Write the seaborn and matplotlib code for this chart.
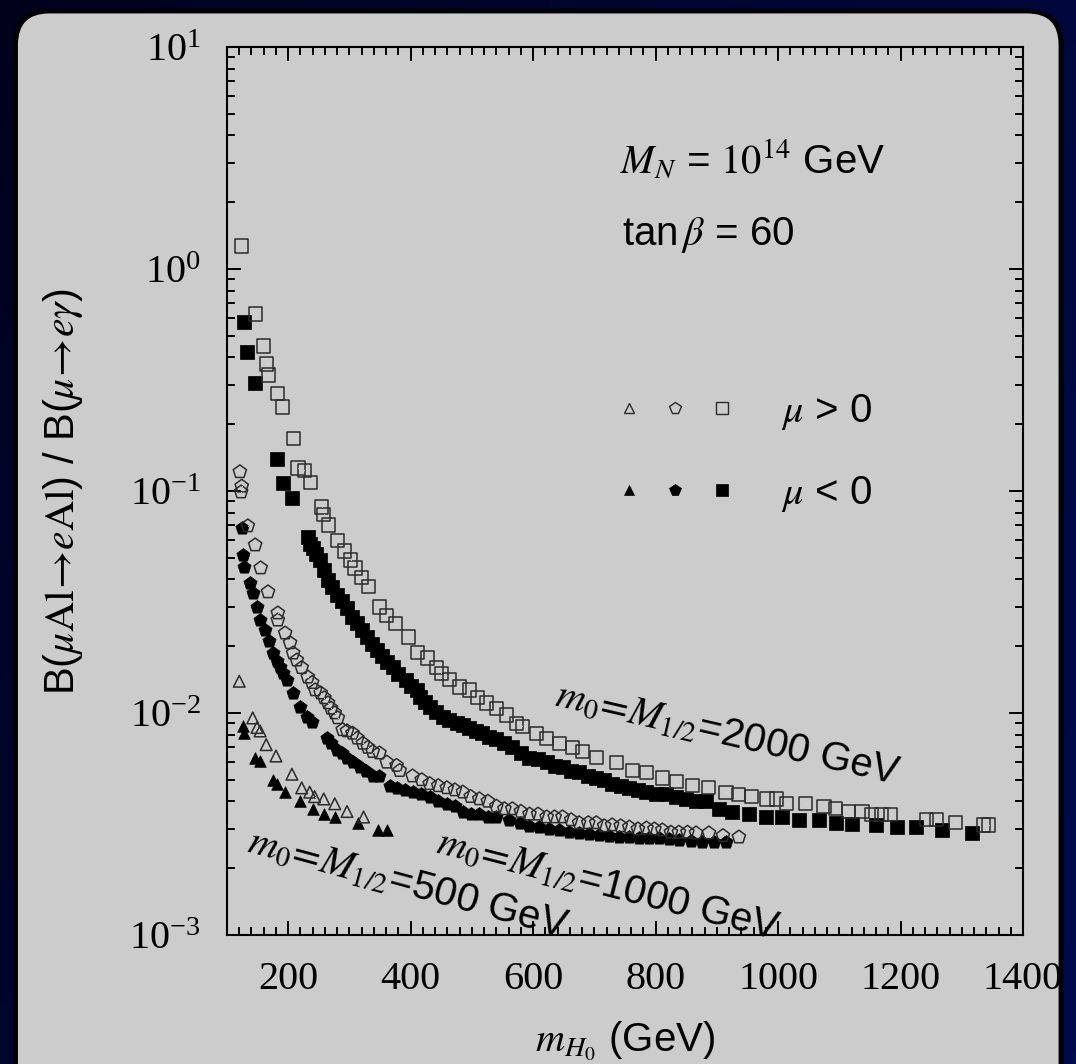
import numpy as np
import seaborn as sns
import matplotlib.pyplot as plt
from matplotlib.colors import LinearSegmentedColormap
from matplotlib.patches import FancyBboxPatch
from matplotlib.lines import Line2D
from matplotlib.legend_handler import HandlerTuple
from matplotlib.ticker import MultipleLocator

# --- data (m_H0 in GeV, ratio B(mu Al -> e Al)/B(mu -> e gamma)) ---
# m0 = M1/2 = 2000 GeV, mu > 0 (open squares)
sq_pos_x = [124, 147, 159, 165, 168, 182, 190, 208, 216, 226, 237, 255, 258, 266, 281,
            292, 302, 309, 320, 331, 349, 361, 375, 397, 411, 428, 442, 450, 463, 480,
            496, 509, 524, 540, 556, 573, 582, 605, 622, 643, 664, 680, 703, 736, 762,
            785, 811, 834, 860, 887, 915, 936, 957, 982, 997, 1014, 1045, 1075, 1094, 1115,
            1137, 1153, 1169, 1184, 1243, 1259, 1290, 1336, 1344]
sq_pos_y = [1.27, 0.627, 0.450, 0.373, 0.333, 0.276, 0.239, 0.173, 0.127, 0.124, 0.109, 0.0847, 0.0787, 0.0703, 0.0601,
            0.0537, 0.0489, 0.0450, 0.0406, 0.0370, 0.0300, 0.0276, 0.0252, 0.0220, 0.0188, 0.0177, 0.0160, 0.0151, 0.0141, 0.0131,
            0.0127, 0.0117, 0.0111, 0.0105, 0.0098, 0.0090, 0.0087, 0.0081, 0.0077, 0.0073, 0.0070, 0.0067, 0.0063, 0.0060, 0.0055,
            0.0054, 0.0051, 0.0049, 0.0047, 0.0046, 0.0044, 0.0043, 0.0042, 0.0041, 0.0041, 0.0039, 0.0039, 0.0038, 0.0037, 0.0036,
            0.0036, 0.0035, 0.0035, 0.0035, 0.0033, 0.0033, 0.0032, 0.00313, 0.00313]

# m0 = M1/2 = 2000 GeV, mu < 0 (filled squares)
sq_neg_x = [128, 133, 146, 182, 191, 206, 232, 236, 240, 246, 252, 258, 265, 272, 279,
            287, 296, 304, 312, 320, 328, 336, 345, 353, 362, 371, 380, 393, 401, 410,
            415, 423, 431, 441, 452, 463, 475, 485, 496, 506, 517, 528, 540, 553, 566,
            580, 594, 608, 622, 635, 648, 662, 675, 690, 703, 716, 729, 743, 757, 771,
            785, 800, 817, 833, 850, 866, 882, 904, 925, 952, 980, 1006, 1034, 1067, 1094,
            1120, 1160, 1194, 1226, 1267, 1316]
sq_neg_y = [0.577, 0.423, 0.306, 0.139, 0.109, 0.0929, 0.0621, 0.058, 0.0554, 0.052, 0.0489, 0.044, 0.0397, 0.037, 0.0340,
            0.032, 0.0297, 0.027, 0.0254, 0.0237, 0.0220, 0.0205, 0.0192, 0.018, 0.017, 0.0161, 0.015, 0.0141, 0.0133, 0.0127,
            0.0118, 0.0112, 0.0106, 0.0101, 0.0096, 0.0093, 0.0090, 0.0088, 0.0086, 0.0083, 0.0081, 0.0078, 0.0076, 0.0073, 0.0070,
            0.0066, 0.0063, 0.0062, 0.0060, 0.0058, 0.0057, 0.0055, 0.0054, 0.0052, 0.0051, 0.0050, 0.0048, 0.0047, 0.0046, 0.0045,
            0.0044, 0.0043, 0.0043, 0.0042, 0.0041, 0.0040, 0.0040, 0.0037, 0.0036, 0.0035, 0.0034, 0.0034, 0.0033, 0.0033, 0.0032,
            0.00316, 0.00313, 0.00306, 0.00306, 0.00297, 0.00288]

# m0 = M1/2 = 1000 GeV, mu > 0 (open pentagons)
pe_pos_x = [121, 123, 124, 134, 146, 155, 167, 183, 183, 195, 203, 208, 214, 222, 232,
            239, 244, 253, 259, 265, 270, 276, 281, 289, 296, 305, 313, 322, 330, 338,
            349, 361, 377, 382, 403, 418, 431, 445, 459, 472, 485, 498, 512, 526, 540,
            553, 566, 580, 594, 608, 622, 635, 648, 662, 675, 690, 703, 716, 729, 743,
            757, 771, 785, 798, 811, 825, 838, 852, 866, 887, 910, 936]
pe_pos_y = [0.122, 0.0989, 0.105, 0.0696, 0.0571, 0.0450, 0.0351, 0.0282, 0.0262, 0.0229, 0.0207, 0.0186, 0.0173, 0.0160, 0.0145,
            0.0137, 0.0127, 0.0123, 0.0117, 0.0111, 0.0105, 0.0100, 0.0095, 0.0084, 0.0083, 0.0081, 0.0077, 0.0073, 0.0070, 0.0067,
            0.0066, 0.0060, 0.0058, 0.0055, 0.0052, 0.0050, 0.0048, 0.0047, 0.0046, 0.0045, 0.0044, 0.0042, 0.0041, 0.0040, 0.0038,
            0.0037, 0.0037, 0.0036, 0.0035, 0.0035, 0.0034, 0.0034, 0.0034, 0.0033, 0.0032, 0.0032, 0.0032, 0.0031, 0.00313, 0.0031,
            0.00306, 0.0030, 0.00303, 0.0030, 0.00297, 0.0029, 0.0029, 0.0029, 0.00288, 0.00288, 0.0028, 0.00276]

# m0 = M1/2 = 1000 GeV, mu < 0 (filled pentagons)
pe_neg_x = [124, 126, 128, 137, 142, 149, 154, 162, 168, 175, 181, 186, 192, 198, 208,
            219, 230, 239, 263, 270, 279, 287, 296, 306, 317, 327, 338, 349, 366, 377,
            390, 403, 417, 431, 445, 459, 472, 485, 498, 512, 526, 540, 560, 578, 594,
            610, 626, 643, 659, 675, 691, 708, 724, 741, 757, 773, 790, 806, 822, 838,
            857, 876, 895, 915]
pe_neg_y = [0.0681, 0.0515, 0.0455, 0.0385, 0.0347, 0.0300, 0.0262, 0.0237, 0.021, 0.0186, 0.0172, 0.0161, 0.0151, 0.0141, 0.0123,
            0.0106, 0.0096, 0.0091, 0.0077, 0.0073, 0.0068, 0.0066, 0.0063, 0.0060, 0.0057, 0.0055, 0.0052, 0.0052, 0.0047, 0.0046,
            0.0045, 0.0044, 0.0043, 0.0042, 0.0040, 0.0039, 0.0038, 0.0036, 0.0035, 0.0035, 0.0034, 0.0034, 0.0033, 0.0032, 0.0031,
            0.00306, 0.0030, 0.00297, 0.0029, 0.00288, 0.00285, 0.00282, 0.0028, 0.00276, 0.00275, 0.00274, 0.00274, 0.00274, 0.0027, 0.00268,
            0.00265, 0.00262, 0.00262, 0.00262]

# m0 = M1/2 = 500 GeV, mu > 0 (open triangles)
tr_pos_x = [120, 142, 149, 154, 164, 180, 206, 222, 235, 243, 258, 276, 296, 323]
tr_pos_y = [0.0139, 0.0095, 0.0086, 0.0083, 0.0072, 0.0064, 0.0053, 0.0046, 0.0044, 0.0042, 0.0041, 0.0039, 0.0036, 0.0034]

# m0 = M1/2 = 500 GeV, mu < 0 (filled triangles)
tr_neg_x = [126, 128, 146, 154, 175, 182, 195, 219, 240, 258, 276, 314, 346, 361]
tr_neg_y = [0.0087, 0.0081, 0.0063, 0.0061, 0.0050, 0.0048, 0.0044, 0.0040, 0.0037, 0.0035, 0.0034, 0.0032, 0.00297, 0.00297]

sns.set_style("ticks")
plt.rcParams['font.family'] = ['Liberation Sans', 'DejaVu Sans']
plt.rcParams['mathtext.fontset'] = 'stix'
plt.rcParams['text.color'] = 'black'
plt.rcParams['axes.labelcolor'] = 'black'

W, H = 1076, 1064
fig = plt.figure(figsize=(W / 100, H / 100), dpi=100)

# background: dark blue gradient + grey rounded panel
bg = fig.add_axes([0, 0, 1, 1], zorder=-5)
bg.set_xlim(0, W)
bg.set_ylim(0, H)
bg.axis('off')
gx, gy = np.meshgrid(np.linspace(0, 1, 256), np.linspace(0, 1, 256))
grad = 0.65 * gx + 0.35 * (1 - gy)
bg_cmap = LinearSegmentedColormap.from_list('bg', ['#00021c', '#000b4c'])
bg.imshow(grad, extent=[0, W, 0, H], origin='lower', cmap=bg_cmap, aspect='auto')
bg.add_patch(FancyBboxPatch((15.5, -40), 1045.5, 1093,
                            boxstyle='round,pad=0,rounding_size=34',
                            fc='#cccccc', ec='black', lw=3.5))

ax = fig.add_axes([227 / W, (H - 935) / H, 796 / W, 888 / H])
ax.set_facecolor('#cccccc')

open_kw = dict(color='none', edgecolor='#2b2b2b', linewidth=1.1, legend=False, ax=ax)
fill_kw = dict(color='black', edgecolor='black', linewidth=0.5, legend=False, ax=ax)
dot_kw = dict(marker='.', s=2, color='#555555', linewidth=0, legend=False, ax=ax)

sns.scatterplot(x=sq_neg_x, y=sq_neg_y, marker='s', s=90, **fill_kw)
sns.scatterplot(x=pe_neg_x, y=pe_neg_y, marker='p', s=100, **fill_kw)
sns.scatterplot(x=tr_neg_x, y=tr_neg_y, marker='^', s=70, **fill_kw)
sns.scatterplot(x=sq_pos_x, y=sq_pos_y, marker='s', s=90, **open_kw)
sns.scatterplot(x=pe_pos_x, y=pe_pos_y, marker='p', s=100, **open_kw)
sns.scatterplot(x=tr_pos_x, y=tr_pos_y, marker='^', s=70, **open_kw)
for xs, ys in [(sq_pos_x, sq_pos_y), (pe_pos_x, pe_pos_y), (tr_pos_x, tr_pos_y)]:
    sns.scatterplot(x=xs, y=ys, **dot_kw)

ax.set_yscale('log')
ax.set_xlim(100, 1400)
ax.set_ylim(1e-3, 10)
ax.xaxis.set_major_locator(MultipleLocator(200))
ax.xaxis.set_minor_locator(MultipleLocator(20))
ax.tick_params(which='both', direction='in', top=True, right=True, width=1.4,
               colors='black', labelcolor='black')
ax.tick_params(which='major', length=10)
ax.tick_params(which='minor', length=5.5)
ax.tick_params(axis='x', labelsize=29, pad=19, labelfontfamily='Liberation Serif')
ax.tick_params(axis='y', labelsize=29, pad=19, labelfontfamily='Liberation Serif')
for sp in ax.spines.values():
    sp.set_linewidth(1.5)
    sp.set_color('black')

ax.set_xlabel(r"$m_{H_0}$ (GeV)", fontsize=29)
ax.xaxis.set_label_coords(0.5, -0.095)
ax.set_ylabel(r"B($\mu\mathrm{Al}\!\rightarrow\!e\mathrm{Al}$) / B($\mu\!\rightarrow\!e\gamma$)", fontsize=30)
ax.yaxis.set_label_coords(-0.178, 0.5)

ax.text(0.494, 0.859, r"$M_N$ = $\mathrm{10}^{14}$ GeV", transform=ax.transAxes,
        fontsize=29, ha='left', va='baseline')
ax.text(0.496, 0.777, r"tan$\,\beta$ = 60", transform=ax.transAxes,
        fontsize=29, ha='left', va='baseline')

curve_labels = [
    (0.6256, 0.2151, -13.0, r"$m_0\!=\!M_{1/2}$=2000 GeV"),
    (0.476, 0.0439, -14.4, r"$m_0\!=\!M_{1/2}$=1000 GeV"),
    (0.2236, 0.0462, -15.2, r"$m_0\!=\!M_{1/2}$=500 GeV"),
]
for lx, ly, rot, txt in curve_labels:
    ax.text(lx, ly, txt, transform=ax.transAxes, fontsize=29, rotation=rot,
            rotation_mode='anchor', ha='center', va='baseline')

# legend: three marker shapes per sign of mu
def key(m, filled, ms):
    if filled:
        return Line2D([], [], ls='none', marker=m, ms=ms, mfc='black', mec='black', mew=0.5)
    return Line2D([], [], ls='none', marker=m, ms=ms, mfc='none', mec='#2b2b2b', mew=1.0)

row_pos = (key('^', False, 7), key('p', False, 8.5), key('s', False, 8.5))
row_neg = (key('^', True, 7), key('p', True, 8.5), key('s', True, 8.5))
ax.legend(handles=[row_pos, row_neg], labels=[r"$\mu$ > 0", r"$\mu$ < 0"],
          handler_map={tuple: HandlerTuple(ndivide=None, pad=0)},
          handlelength=3.46, handletextpad=0.9, labelspacing=1.05, fontsize=29,
          frameon=False, loc='upper left', bbox_to_anchor=(0.4758, 0.6115),
          borderpad=0, borderaxespad=0)

fig.savefig('out.png', dpi=100)
